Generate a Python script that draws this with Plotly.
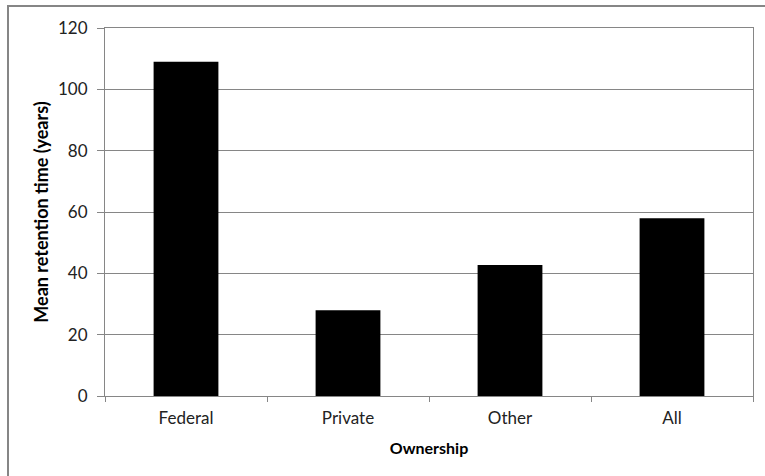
import plotly.graph_objects as go

categories = ["Federal", "Private", "Other", "All"]
values = [109, 28, 42.7, 58]
y_ticks = [0, 20, 40, 60, 80, 100, 120]

W, H = 765, 476
L, T, R, B = 105, 28, 12, 80
pw, ph = W - L - R, H - T - B

fig = go.Figure(go.Bar(
    x=categories, y=values,
    marker=dict(color="black", line=dict(color="black", width=0)),
    width=0.4,
))

font = "Lato, Open Sans, sans-serif"
axis_col = "#868686"

fig.update_layout(
    width=W, height=H,
    margin=dict(l=L, r=R, t=T, b=B),
    paper_bgcolor="white", plot_bgcolor="white",
    showlegend=False,
    font=dict(family=font, size=17, color="#222"),
    xaxis=dict(
        type="category",
        showline=True, linecolor=axis_col, linewidth=1, mirror=True,
        ticks="outside", tickson="boundaries", ticklen=5, tickcolor=axis_col,
        showgrid=False,
        tickfont=dict(size=17, color="#222"),
        ticklabelstandoff=7,
        title=dict(text="<b>Ownership</b>", font=dict(size=16, color="black"), standoff=15),
    ),
    yaxis=dict(
        range=[0, 120], tickvals=y_ticks,
        showline=True, linecolor=axis_col, linewidth=1, mirror=True,
        ticks="outside", ticklen=7, tickcolor=axis_col,
        showgrid=True, gridcolor=axis_col, gridwidth=1,
        zeroline=False,
        tickfont=dict(size=17, color="#222"),
        ticklabelstandoff=6,
        title=dict(text="<b>Mean retention time (years)</b>", font=dict(size=18, color="black"), standoff=4),
    ),
    shapes=[dict(
        type="rect", xref="paper", yref="paper",
        x0=(8 - L) / pw, x1=(W + 10 - L) / pw,
        y0=(ph - (H + 10 - T)) / ph, y1=(ph - (6 - T)) / ph,
        line=dict(color=axis_col, width=2), fillcolor="rgba(0,0,0,0)",
    )],
)

fig.write_html("out.html", config={"displayModeBar": False},
               post_script="document.body.style.margin='0';")
